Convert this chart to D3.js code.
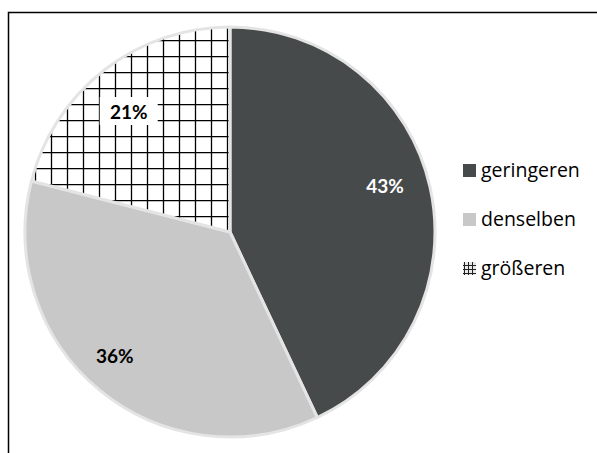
<!DOCTYPE html>
<html>
<head>
<meta charset="utf-8">
<script src="https://cdn.jsdelivr.net/npm/d3@7"></script>
<style>
  html, body { margin: 0; padding: 0; background: #fff; }
  svg { display: block; }
</style>
</head>
<body>
<svg id="chart" width="597" height="453"></svg>
<script>
// Anteile (Prozent) je Kategorie
const categories = ["geringeren", "denselben", "größeren"];
const shares = [43, 36, 21];
const labels = ["43%", "36%", "21%"];

const svg = d3.select("#chart");

// Rahmen um das Diagramm
svg.append("rect")
  .attr("x", 8.5).attr("y", 12.5)
  .attr("width", 700).attr("height", 600)
  .attr("fill", "none").attr("stroke", "#000").attr("stroke-width", 1.5);

// Gittermuster für "größeren"
const defs = svg.append("defs");
const pat = defs.append("pattern")
  .attr("id", "grid")
  .attr("patternUnits", "userSpaceOnUse")
  .attr("width", 16).attr("height", 16);
pat.append("rect").attr("width", 16).attr("height", 16).attr("fill", "#fff");
pat.append("path")
  .attr("d", "M13.5,0V16M0,0.5H16")
  .attr("stroke", "#000").attr("stroke-width", 1.3);

const pat2 = defs.append("pattern")
  .attr("id", "gridSmall")
  .attr("patternUnits", "userSpaceOnUse")
  .attr("x", 0).attr("y", 0)
  .attr("width", 4).attr("height", 4);
pat2.append("rect").attr("width", 4).attr("height", 4).attr("fill", "#e8e8e8");
pat2.append("path")
  .attr("d", "M1.5,0V4M0,1.5H4")
  .attr("stroke", "#222").attr("stroke-width", 1);

const color = d3.scaleOrdinal()
  .domain(categories)
  .range(["#474a4b", "#c8c8c8", "url(#grid)"]);

const cx = 230, cy = 232, R = 205;
const g = svg.append("g").attr("transform", `translate(${cx},${cy})`);

const pie = d3.pie().sort(null).value(d => d.v);
const arcs = pie(categories.map((c, i) => ({ c, v: shares[i], label: labels[i] })));
const arc = d3.arc().innerRadius(0).outerRadius(R);

g.selectAll("path.slice")
  .data(arcs)
  .join("path")
  .attr("class", "slice")
  .attr("d", arc)
  .attr("fill", d => color(d.data.c))
  .attr("stroke", "#e4e4e4")
  .attr("stroke-width", 3)
  .attr("stroke-linejoin", "round");

// Datenbeschriftungen (am Mittelwinkel, leicht versetzt)
const labelArc = d3.arc().innerRadius(162).outerRadius(162);
const nudge = [[-3, -10], [-12, 0], [-2, 8]];
const lbl = g.selectAll("g.lbl")
  .data(arcs)
  .join("g")
  .attr("class", "lbl")
  .attr("transform", (d, i) => {
    const [x, y] = labelArc.centroid(d);
    return `translate(${x + nudge[i][0]},${y + nudge[i][1]})`;
  });

lbl.each(function(d, i) {
  const sel = d3.select(this);
  if (i === 2) {
    sel.append("rect")
      .attr("x", -29).attr("y", -15).attr("width", 58).attr("height", 28)
      .attr("fill", "#fff");
  }
  sel.append("text")
    .attr("text-anchor", "middle")
    .attr("dy", "0.35em")
    .attr("font-family", "Lato, 'Open Sans', sans-serif")
    .attr("font-weight", "bold")
    .attr("font-size", 19)
    .attr("fill", i === 0 ? "#fff" : "#000")
    .text(d.data.label);
});

// Legende
const legend = svg.append("g").attr("transform", "translate(463,0)");
const ly = d3.scalePoint().domain(categories).range([170, 268]);
const item = legend.selectAll("g.item")
  .data(categories)
  .join("g")
  .attr("class", "item")
  .attr("transform", d => `translate(0,${ly(d)})`);
item.append("rect")
  .attr("x", 0).attr("y", -6).attr("width", 13).attr("height", 13)
  .attr("fill", (d, i) => i === 2 ? "url(#gridSmall)" : color(d));
item.append("text")
  .attr("x", 18)
  .attr("dy", "0.35em")
  .attr("font-family", "'Open Sans', sans-serif")
  .attr("font-size", 19.5)
  .attr("fill", "#000")
  .text(d => d);
</script>
</body>
</html>
